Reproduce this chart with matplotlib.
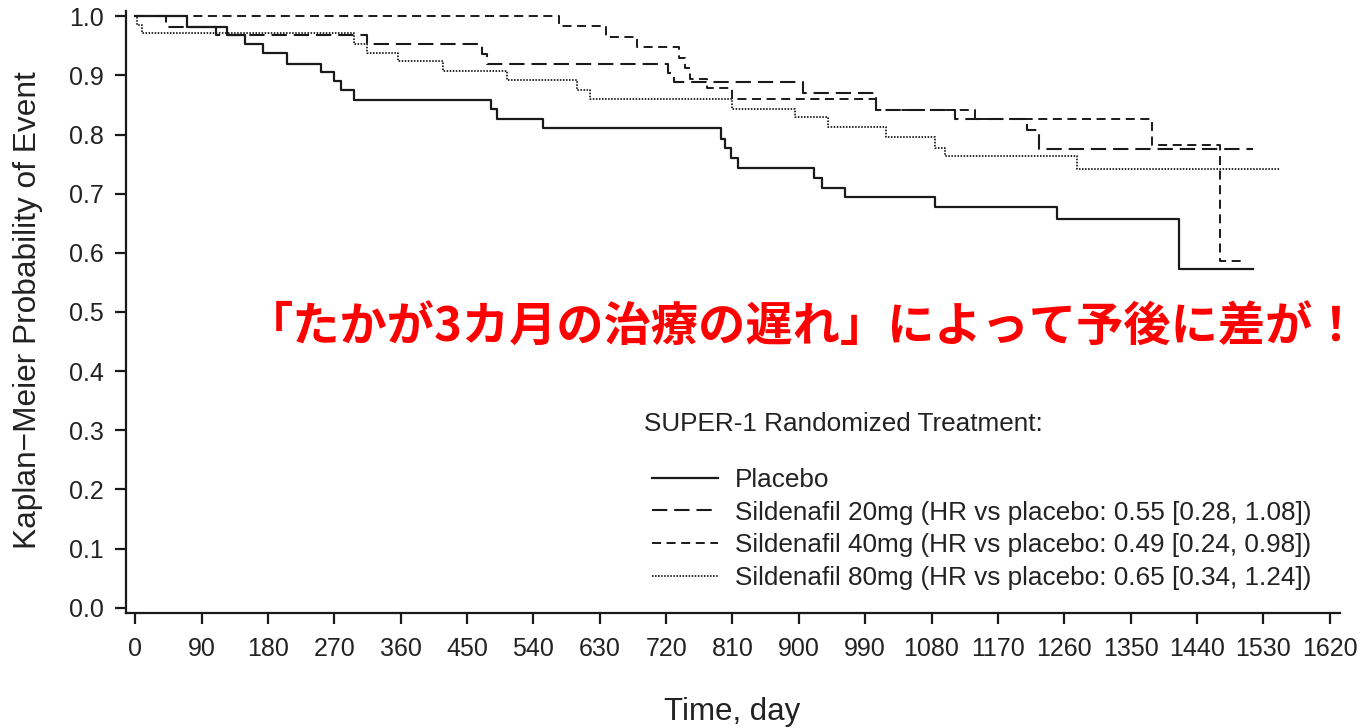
import numpy as np
import matplotlib
matplotlib.use("Agg")
import matplotlib.pyplot as plt
from matplotlib.lines import Line2D

# --- Datos (curvas de Kaplan-Meier, escalones "post") ---
t_placebo = [0, 70, 124, 149, 173, 206, 252, 269, 279, 297, 482, 490, 553,
             795, 800, 808, 818, 920, 931, 962, 1085, 1250, 1416, 1516]
s_placebo = [1.0, 0.982, 0.969, 0.953, 0.938, 0.920, 0.906, 0.890, 0.875, 0.858,
             0.844, 0.826, 0.811, 0.793, 0.777, 0.760, 0.743, 0.727, 0.710, 0.694,
             0.677, 0.658, 0.573, 0.573]

t_20mg = [0, 42, 110, 314, 470, 477, 723, 730, 906, 1005, 1112, 1209, 1226, 1516]
s_20mg = [1.0, 0.982, 0.969, 0.953, 0.936, 0.920, 0.904, 0.889, 0.871, 0.841,
          0.826, 0.808, 0.775, 0.775]

t_40mg = [0, 575, 639, 680, 738, 745, 752, 775, 809, 1005, 1139, 1379, 1471, 1500]
s_40mg = [1.0, 0.983, 0.965, 0.948, 0.930, 0.913, 0.894, 0.878, 0.860, 0.841,
          0.826, 0.782, 0.587, 0.587]

t_80mg = [0, 2, 9, 296, 314, 357, 418, 504, 599, 617, 809, 895, 940, 1018,
          1085, 1098, 1277, 1553]
s_80mg = [1.0, 0.986, 0.972, 0.953, 0.938, 0.924, 0.907, 0.892, 0.876, 0.861,
          0.843, 0.830, 0.813, 0.796, 0.778, 0.763, 0.741, 0.741]

etiquetas = [
    "Placebo",
    "Sildenafil 20mg (HR vs placebo: 0.55 [0.28, 1.08])",
    "Sildenafil 40mg (HR vs placebo: 0.49 [0.24, 0.98])",
    "Sildenafil 80mg (HR vs placebo: 0.65 [0.34, 1.24])",
]
titulo_leyenda = "SUPER-1 Randomized Treatment:"
x_ticks = list(range(0, 1621, 90))
y_ticks = [round(0.1 * i, 1) for i in range(11)]
texto_rojo = "「たかが3カ月の治療の遅れ」によって予後に差が！"

plt.rcParams["font.family"] = ["Liberation Sans", "DejaVu Sans"]
plt.rcParams["lines.scale_dashes"] = False

W, H = 1364, 728
fig = plt.figure(figsize=(W / 100, H / 100), dpi=100)
# ejes en píxeles de la imagen de referencia
ax_l, ax_r, ax_t, ax_b = 126, 1340, 11, 613
ax = fig.add_axes([ax_l / W, 1 - ax_b / H, (ax_r - ax_l) / W, (ax_b - ax_t) / H])

negro = "#1a1a1a"
estilos = [
    dict(color=negro, lw=1.6, linestyle="-"),
    dict(color=negro, lw=1.5, dashes=(11, 5)),
    dict(color=negro, lw=1.4, dashes=(6.5, 4)),
    dict(color=negro, lw=1.3, dashes=(1.1, 1.1)),
]
series = [(t_placebo, s_placebo), (t_20mg, s_20mg), (t_40mg, s_40mg), (t_80mg, s_80mg)]
for (t, s), st in zip(series, estilos):
    ax.step(t, s, where="post", **st)

ax.set_xlim(-12.6, 1634)
ax.set_ylim(-0.009, 1.009)
ax.set_xticks(x_ticks)
ax.set_yticks(y_ticks)
ax.set_yticklabels([f"{v:.1f}" for v in y_ticks])

for lado in ["top", "right"]:
    ax.spines[lado].set_visible(False)
for lado in ["left", "bottom"]:
    ax.spines[lado].set_linewidth(1.6)
    ax.spines[lado].set_color(negro)
ax.tick_params(axis="both", direction="out", length=8, width=1.6, color=negro,
               labelsize=18, labelcolor="#222222")
ax.tick_params(axis="y", pad=8)
ax.tick_params(axis="x", pad=9)

ax.set_xlabel("Time, day", fontsize=22.5, color="#222222")
ax.set_ylabel("Kaplan\u2212Meier Probability of Event", fontsize=22.8, color="#222222")
ax.xaxis.set_label_coords((732 - ax_l) / (ax_r - ax_l), -(697 - ax_b) / (ax_b - ax_t))
# el ylabel se ancla por su borde derecho (texto girado)
ax.yaxis.set_label_coords(-(ax_l - 43) / (ax_r - ax_l), 0.503)

# --- Leyenda (título aparte, como en la figura) ---
fs_leg = 18.8
fig.text(644 / W, 1 - 424 / H, titulo_leyenda, fontsize=fs_leg, color="#222222",
         va="center", ha="left")
handles = [Line2D([], [], **st) for st in estilos]
leg = ax.legend(handles, etiquetas, loc="upper left",
                bbox_to_anchor=((652 - ax_l) / (ax_r - ax_l), 1 - (468 - ax_t) / (ax_b - ax_t)),
                frameon=False, fontsize=fs_leg,
                handlelength=2.53, handletextpad=0.65, labelspacing=0.33,
                borderaxespad=0, borderpad=0)
for txt in leg.get_texts():
    txt.set_color("#222222")

# --- Texto rojo superpuesto ---
fig.text(246 / W, 1 - 328 / H, texto_rojo, color="#ff0000", fontsize=34,
         fontweight="bold", va="center", ha="left",
         family=["Noto Sans CJK JP", "DejaVu Sans"])

fig.savefig("out.png", dpi=100)
